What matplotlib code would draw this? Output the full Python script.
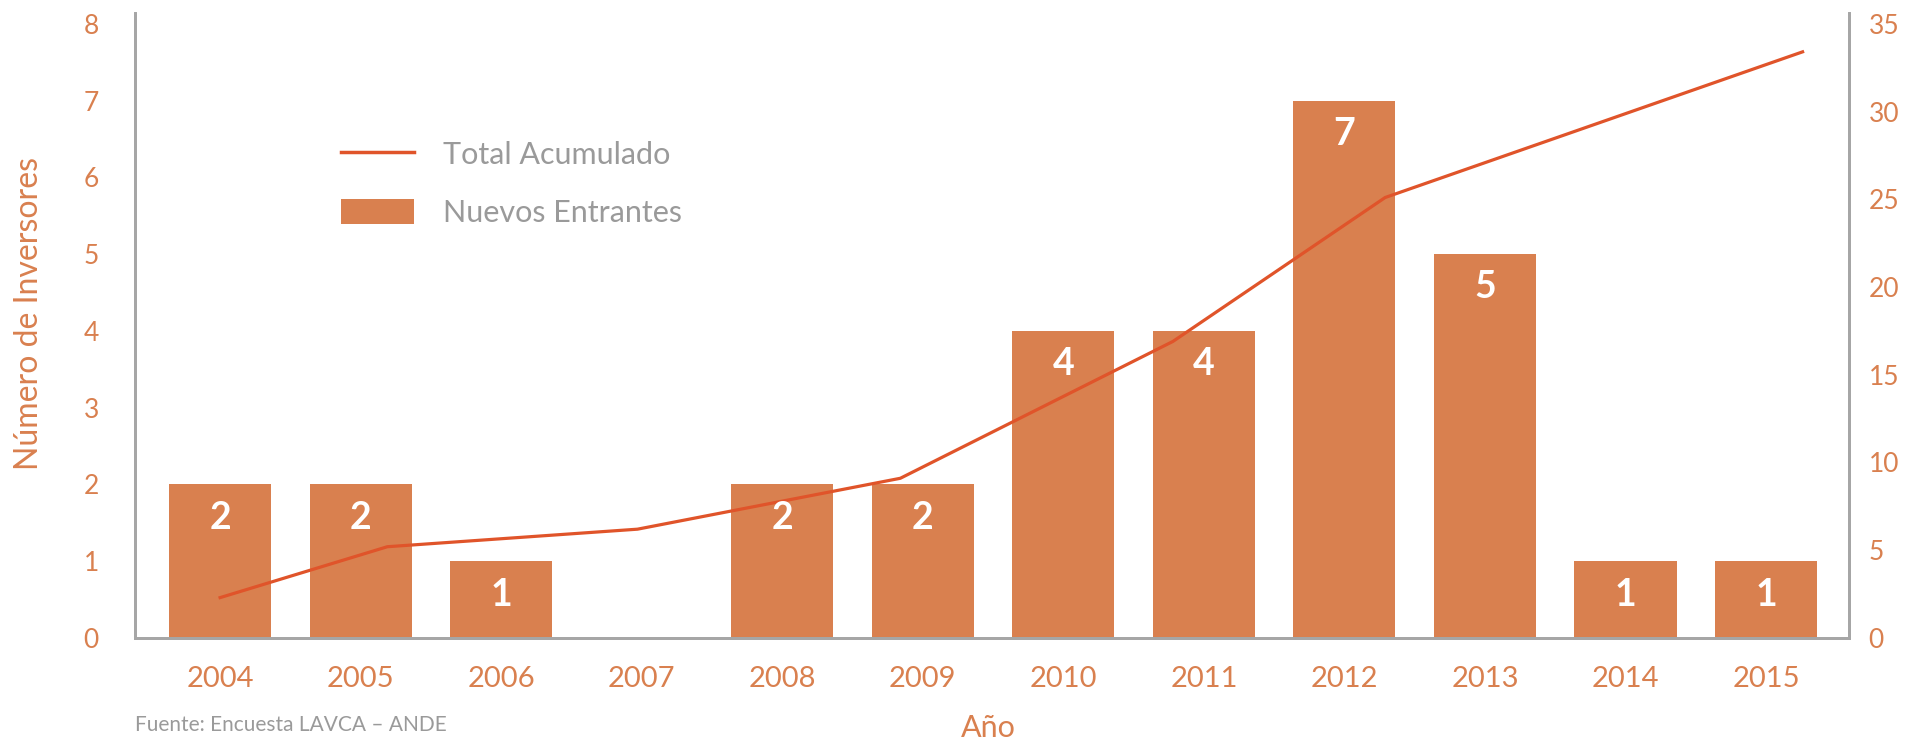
import matplotlib
matplotlib.use("Agg")
import matplotlib.pyplot as plt
from matplotlib.patches import Patch
from matplotlib.lines import Line2D

# Annual new investors (bars, left axis)
years = ["2004", "2005", "2006", "2007", "2008", "2009",
         "2010", "2011", "2012", "2013", "2014", "2015"]
nuevos = [2, 2, 1, 0, 2, 2, 4, 4, 7, 5, 1, 1]

# Cumulative total (line, right axis); positions given on the year index scale
acum_pos = [0.0, 1.19, 2.97, 4.84, 6.78, 8.29, 11.26]
acum_val = [2.3, 5.2, 6.2, 9.1, 16.9, 25.1, 33.4]

left_ticks = list(range(0, 9))
right_ticks = list(range(0, 36, 5))

BAR = "#D9804F"
LINE = "#E0542A"
TXT = "#D9804F"
GREY = "#A6A6A6"
LEG = "#9A9A9A"

plt.rcParams["font.family"] = ["Lato", "DejaVu Sans"]

fig = plt.figure(figsize=(19.24, 7.44), dpi=100)
ax = fig.add_axes([0.0702, 0.1425, 0.8908, 0.8400])
ax2 = ax.twinx()

x = list(range(len(years)))
ax.bar(x, nuevos, width=0.726, color=BAR, zorder=2)
ax2.plot(acum_pos, acum_val, color=LINE, lw=2.3, zorder=4)

# value labels inside the top of each bar, drawn above the line
for xi, v in zip(x, nuevos):
    if v > 0:
        ax2.annotate(str(v), (xi, v * 35 / 8), xytext=(0, -24),
                     textcoords="offset points", ha="center", va="center",
                     color="white", fontsize=27, fontweight="bold", zorder=6)

ax.set_xlim(-0.605, 11.59)
ax.set_ylim(0, 8.14)
ax2.set_ylim(0, 8.14 * 35 / 8)

ax.set_xticks(x)
ax.set_xticklabels(years)
ax.set_yticks(left_ticks)
ax2.set_yticks(right_ticks)

for a in (ax, ax2):
    a.tick_params(length=0, colors=TXT, labelsize=19)
    for s in a.spines.values():
        s.set_color(GREY)
        s.set_linewidth(2)
    a.spines["top"].set_visible(False)
ax.tick_params(axis="x", labelsize=21, pad=20)
ax.tick_params(axis="y", pad=26)
ax2.tick_params(axis="y", pad=14)

ax.set_ylabel("Número de Inversores", color=TXT, fontsize=23)
ax.yaxis.set_label_coords(-0.053, 0.52)
fig.text(0.5135, 0.003, "Año", color=TXT, fontsize=22, ha="center", va="bottom")
fig.text(0.0702, 0.012, "Fuente: Encuesta LAVCA – ANDE", color=LEG, fontsize=15,
         ha="left", va="bottom")

handles = [Line2D([], [], color=LINE, lw=2.5),
           Patch(facecolor=BAR, edgecolor="none")]
leg = ax.legend(handles, ["Total Acumulado", "Nuevos Entrantes"],
                loc="upper left", bbox_to_anchor=(0.104, 0.840), frameon=False,
                fontsize=22, handlelength=2.4, handleheight=0.85,
                handletextpad=0.95, labelspacing=1.0)
for t in leg.get_texts():
    t.set_color(LEG)

fig.savefig("out.png", dpi=100)
